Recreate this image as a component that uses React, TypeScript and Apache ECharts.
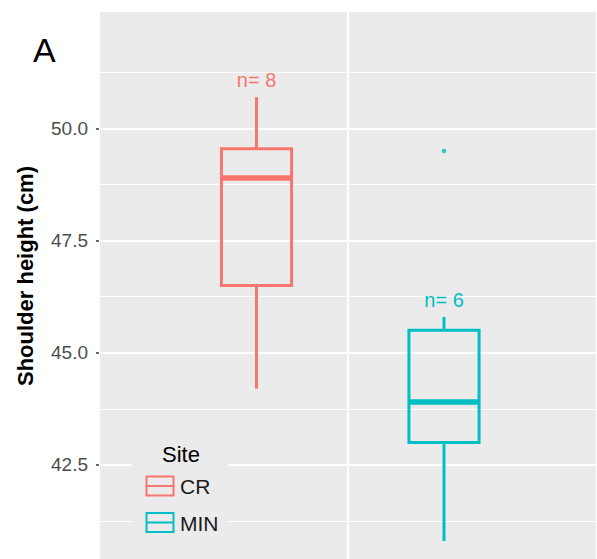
import React, { useEffect, useRef } from 'react';
import * as echarts from 'echarts';

// ---- data ----
const sites = ['CR', 'MIN'];
const whiskerLow = [44.2, 40.8];
const quartile1 = [46.5, 43.0];
const medians = [48.9, 43.9];
const quartile3 = [49.55, 45.5];
const whiskerHigh = [50.7, 45.8];
const sampleSizes = [8, 6];
const outlierSites = ['MIN'];
const outlierValues = [49.5];
const yMajorTicks = [42.5, 45.0, 47.5, 50.0];
const yMinorGrid = [41.25, 43.75, 46.25, 48.75, 51.25];
const yMin = 40.4;
const yMax = 52.6;
const yTitle = 'Shoulder height (cm)';
const panelLabel = 'A';
const legendTitle = 'Site';

// ---- styles ----
const siteColors = ['#F8766D', '#00BFC4'];
const FONT = '"Liberation Sans", Arial, Helvetica, sans-serif';
const PANEL = '#EBEBEB';

export default function App() {
  const ref = useRef<HTMLDivElement>(null);

  useEffect(() => {
    if (!ref.current) return;
    const chart = echarts.init(ref.current, null, { renderer: 'svg' });

    const boxData = sites.map((s, i) => [
      s,
      whiskerLow[i],
      quartile1[i],
      medians[i],
      quartile3[i],
      whiskerHigh[i],
    ]);

    const legendItems: any[] = [];
    sites.forEach((s, i) => {
      const top = 476.5 + i * 36.5;
      legendItems.push(
        {
          type: 'rect',
          z: 101,
          shape: { x: 146.5, y: top, width: 27, height: 19 },
          style: { fill: 'none', stroke: siteColors[i], lineWidth: 2 },
        },
        {
          type: 'line',
          z: 101,
          shape: { x1: 146.5, y1: top + 9.5, x2: 173.5, y2: top + 9.5 },
          style: { stroke: siteColors[i], lineWidth: 2 },
        },
        {
          type: 'text',
          z: 101,
          x: 180,
          y: top + 10,
          style: {
            text: s,
            fill: '#1a1a1a',
            font: `21px ${FONT}`,
            textAlign: 'left',
            textVerticalAlign: 'middle',
          },
        }
      );
    });

    const option: any = {
      animation: false,
      grid: [
        {
          left: 99,
          top: 12,
          width: 508,
          height: 547,
          show: true,
          backgroundColor: PANEL,
          borderWidth: 0,
        },
        { left: 162.75, top: 12, width: 375, height: 547 },
      ],
      xAxis: [
        {
          type: 'category',
          gridIndex: 0,
          data: sites,
          boundaryGap: true,
          axisLine: { show: false },
          axisTick: { show: false },
          axisLabel: { show: false },
          splitLine: { show: true, lineStyle: { color: '#ffffff', width: 2 } },
        },
        {
          type: 'category',
          gridIndex: 1,
          data: sites,
          boundaryGap: true,
          axisLine: { show: false },
          axisTick: { show: false },
          axisLabel: { show: false },
          splitLine: { show: false },
        },
      ],
      yAxis: [
        {
          type: 'value',
          gridIndex: 0,
          min: yMin,
          max: yMax,
          axisLine: { show: false },
          axisTick: {
            show: true,
            length: 3,
            customValues: yMajorTicks,
            lineStyle: { color: '#333333', width: 1.5 },
          },
          axisLabel: {
            show: true,
            customValues: yMajorTicks,
            formatter: (v: number) => v.toFixed(1),
            color: '#4D4D4D',
            fontSize: 19,
            fontFamily: FONT,
            margin: 11,
          },
          splitLine: { show: true, lineStyle: { color: '#ffffff', width: 2 } },
        },
        {
          type: 'value',
          gridIndex: 0,
          min: yMin,
          max: yMax,
          axisLine: { show: false },
          axisTick: { show: false, customValues: yMinorGrid },
          axisLabel: { show: false },
          splitLine: { show: true, lineStyle: { color: '#ffffff', width: 1.2 } },
        },
        {
          type: 'value',
          gridIndex: 1,
          min: yMin,
          max: yMax,
          axisLine: { show: false },
          axisTick: { show: false },
          axisLabel: { show: false },
          splitLine: { show: false },
        },
      ],
      series: [
        {
          type: 'custom',
          name: 'box',
          xAxisIndex: 1,
          yAxisIndex: 2,
          data: boxData,
          encode: { x: 0, y: [1, 2, 3, 4, 5] },
          clip: false,
          renderItem: (params: any, api: any) => {
            const i = params.dataIndex;
            const c = siteColors[i];
            const xi = api.value(0);
            const [cx, yLow] = api.coord([xi, api.value(1)]);
            const yQ1 = api.coord([xi, api.value(2)])[1];
            const yMed = api.coord([xi, api.value(3)])[1];
            const yQ3 = api.coord([xi, api.value(4)])[1];
            const yHigh = api.coord([xi, api.value(5)])[1];
            const hw = api.size([1, 0])[0] * 0.187;
            return {
              type: 'group',
              children: [
                {
                  type: 'line',
                  shape: { x1: cx, y1: yHigh, x2: cx, y2: yQ3 },
                  style: { stroke: c, lineWidth: 3 },
                },
                {
                  type: 'line',
                  shape: { x1: cx, y1: yQ1, x2: cx, y2: yLow },
                  style: { stroke: c, lineWidth: 3 },
                },
                {
                  type: 'rect',
                  shape: { x: cx - hw, y: yQ3, width: hw * 2, height: yQ1 - yQ3 },
                  style: { fill: 'none', stroke: c, lineWidth: 3 },
                },
                {
                  type: 'line',
                  shape: { x1: cx - hw, y1: yMed, x2: cx + hw, y2: yMed },
                  style: { stroke: c, lineWidth: 5.5 },
                },
                {
                  type: 'text',
                  x: cx,
                  y: yHigh - 17,
                  style: {
                    text: `n= ${sampleSizes[i]}`,
                    fill: c,
                    font: `20px ${FONT}`,
                    textAlign: 'center',
                    textVerticalAlign: 'middle',
                  },
                },
              ],
            };
          },
        },
        {
          type: 'scatter',
          name: 'outliers',
          xAxisIndex: 1,
          yAxisIndex: 2,
          symbol: 'circle',
          symbolSize: 4.5,
          data: outlierSites.map((s, i) => ({
            value: [s, outlierValues[i]],
            itemStyle: { color: siteColors[sites.indexOf(s)] },
          })),
        },
      ],
      graphic: [
        {
          type: 'text',
          x: 33,
          y: 50,
          z: 100,
          style: {
            text: panelLabel,
            fill: '#000000',
            font: `34px ${FONT}`,
            textAlign: 'left',
            textVerticalAlign: 'middle',
          },
        },
        {
          type: 'text',
          x: 25,
          y: 276,
          z: 100,
          rotation: Math.PI / 2,
          style: {
            text: yTitle,
            fill: '#000000',
            font: `bold 22px ${FONT}`,
            textAlign: 'center',
            textVerticalAlign: 'middle',
          },
        },
        {
          type: 'rect',
          z: 100,
          shape: { x: 132, y: 436, width: 96, height: 108 },
          style: { fill: PANEL },
        },
        {
          type: 'text',
          x: 162,
          y: 454,
          z: 101,
          style: {
            text: legendTitle,
            fill: '#000000',
            font: `22px ${FONT}`,
            textAlign: 'left',
            textVerticalAlign: 'middle',
          },
        },
        ...legendItems,
      ],
    };

    chart.setOption(option);
    return () => chart.dispose();
  }, []);

  return (
    <div
      ref={ref}
      style={{ position: 'fixed', left: 0, top: 0, width: 597, height: 559, background: '#ffffff' }}
    />
  );
}
